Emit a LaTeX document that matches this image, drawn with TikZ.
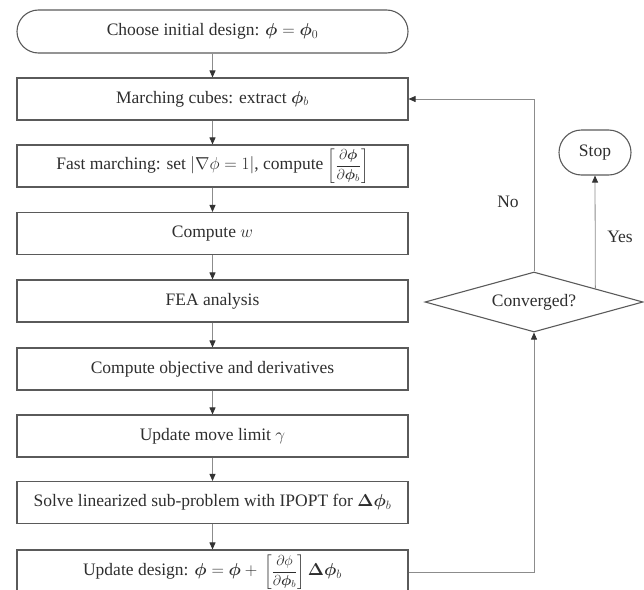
\documentclass[tikz,border=0pt]{standalone}
\usepackage{amsmath}
\usepackage{bm}
\usepackage{fontspec}
\setmainfont{Liberation Serif}
\usetikzlibrary{shapes.geometric,shapes.misc,arrows.meta,calc}
\definecolor{boxline}{HTML}{5A5A5A}
\definecolor{conline}{HTML}{8C8C8C}
\definecolor{tipcol}{HTML}{333333}
\definecolor{txt}{HTML}{2E2E2E}
\newcommand{\myfrac}[2]{{\fontsize{14}{16}\selectfont$\left[\dfrac{#1}{#2}\right]$}}
\tikzset{
  procbox/.style={draw=boxline, line width=1.1pt, rectangle, minimum width=391pt, minimum height=42pt, inner sep=0pt, text=txt, font=\fontsize{17.5}{21}\selectfont},
  termbox/.style={draw=boxline, line width=1.1pt, rounded rectangle, inner sep=0pt, text=txt, font=\fontsize{17.5}{21}\selectfont},
  decbox/.style={draw=boxline, line width=1.1pt, diamond, aspect=3.6, minimum width=218pt, minimum height=60pt, inner sep=0pt, text=txt, font=\fontsize{17.5}{21}\selectfont},
  conn/.style={draw=conline, line width=0.8pt, -{Triangle[length=7pt,width=6pt,color=tipcol]}},
  lbl/.style={text=txt, font=\fontsize{17.5}{21}\selectfont, inner sep=0pt}
}
\begin{document}
\begin{tikzpicture}[x=1pt,y=-1pt]
\useasboundingbox (0,0) rectangle (644,589);
\clip (0,0) rectangle (644,589);
\node[termbox, minimum width=391pt, minimum height=43pt] (start) at (212.5,31.5) {Choose initial design: $\bm{\phi} = \bm{\phi}_0$};
\node[procbox] (b1) at (212.5,99) {Marching cubes: extract $\bm{\phi}_b$};
\node[procbox] (b2) at (212.5,166) {Fast marching: set $|\nabla\phi = 1|$, compute \myfrac{\partial\bm{\phi}}{\partial\bm{\phi}_b}};
\node[procbox] (b3) at (212.5,233.5) {Compute $w$};
\node[procbox] (b4) at (212.5,301) {FEA analysis};
\node[procbox] (b5) at (212.5,369) {Compute objective and derivatives};
\node[procbox] (b6) at (212.5,436) {Update move limit $\gamma$};
\node[procbox] (b7) at (212.5,502.5) {Solve linearized sub-problem with IPOPT for $\bm{\Delta\phi}_b$};
\node[procbox, minimum height=44pt] (b8) at (212.5,572) {Update design: $\bm{\phi} = \bm{\phi} +{}$\,\myfrac{\partial\phi}{\partial\bm{\phi}_b}\,$\bm{\Delta\phi}_b$};
\node[decbox] (dia) at (534,302) {Converged?};
\node[termbox, minimum width=72pt, minimum height=45pt] (stop) at (595,152.5) {Stop};
\node[lbl] (no) at (508,202) {No};
\node[lbl] (yes) at (620,237) {Yes};
\coordinate (ys) at ($(dia.north)!0.56!(dia.east)$);
\draw[conn] (start) -- (b1);
\draw[conn] (b1) -- (b2);
\draw[conn] (b2) -- (b3);
\draw[conn] (b3) -- (b4);
\draw[conn] (b4) -- (b5);
\draw[conn] (b5) -- (b6);
\draw[conn] (b6) -- (b7);
\draw[conn] (b7) -- (b8);
\draw[conn] (dia.north) |- (b1.east);
\draw[conn] (ys) -- (stop.south);
\draw[conn] (b8.east) -| (dia.south);
\end{tikzpicture}
\end{document}
